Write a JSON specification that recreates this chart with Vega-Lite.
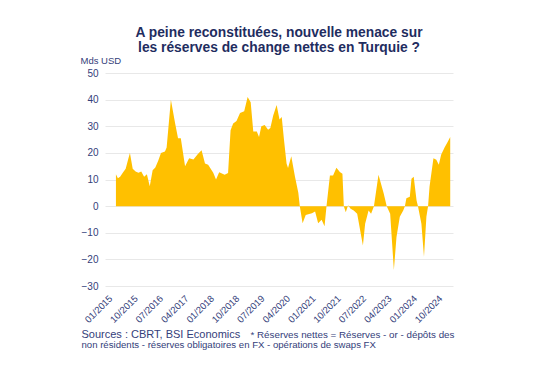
{
  "$schema": "https://vega.github.io/schema/vega-lite/v6.json",
  "autosize": "none",
  "width": 348,
  "height": 213,
  "padding": {"left": 105, "top": 73, "right": 97, "bottom": 86},
  "background": "white",
  "title": {
    "text": ["A peine reconstituées, nouvelle menace sur", "les réserves de change nettes en Turquie ?"],
    "font": "Liberation Sans",
    "fontSize": 13.8,
    "fontWeight": "bold",
    "color": "#1F2D5F",
    "lineHeight": 15.5,
    "anchor": "middle",
    "offset": 0
  },
  "config": {
    "view": {"stroke": null},
    "font": "Liberation Sans"
  },
  "data": {
    "values": [
      {"date": "2015-01-01", "v": 12},
      {"date": "2015-01-22", "v": 10.5},
      {"date": "2015-02-15", "v": 11},
      {"date": "2015-03-16", "v": 12.5},
      {"date": "2015-04-16", "v": 14},
      {"date": "2015-05-16", "v": 18},
      {"date": "2015-06-01", "v": 20},
      {"date": "2015-07-01", "v": 14},
      {"date": "2015-08-01", "v": 13},
      {"date": "2015-09-01", "v": 12.5},
      {"date": "2015-10-01", "v": 13},
      {"date": "2015-11-01", "v": 11},
      {"date": "2015-12-01", "v": 12},
      {"date": "2016-01-01", "v": 7.5},
      {"date": "2016-02-01", "v": 13.5},
      {"date": "2016-03-01", "v": 14.5},
      {"date": "2016-04-01", "v": 17},
      {"date": "2016-05-01", "v": 20},
      {"date": "2016-06-13", "v": 20.5},
      {"date": "2016-07-01", "v": 22},
      {"date": "2016-08-16", "v": 40},
      {"date": "2016-10-01", "v": 31},
      {"date": "2016-11-01", "v": 25.5},
      {"date": "2016-12-01", "v": 25.5},
      {"date": "2017-01-16", "v": 15},
      {"date": "2017-03-01", "v": 18},
      {"date": "2017-04-16", "v": 17.5},
      {"date": "2017-06-01", "v": 19.5},
      {"date": "2017-07-13", "v": 21},
      {"date": "2017-08-19", "v": 16},
      {"date": "2017-09-22", "v": 15.5},
      {"date": "2017-11-16", "v": 12.5},
      {"date": "2017-12-16", "v": 10},
      {"date": "2018-01-19", "v": 12.7},
      {"date": "2018-03-19", "v": 11.8},
      {"date": "2018-04-25", "v": 12.4},
      {"date": "2018-05-22", "v": 28.5},
      {"date": "2018-06-19", "v": 31},
      {"date": "2018-07-25", "v": 32},
      {"date": "2018-09-01", "v": 35},
      {"date": "2018-10-16", "v": 35.6},
      {"date": "2018-11-22", "v": 41},
      {"date": "2018-12-25", "v": 39},
      {"date": "2019-01-22", "v": 28},
      {"date": "2019-03-01", "v": 28},
      {"date": "2019-03-25", "v": 26},
      {"date": "2019-04-19", "v": 30},
      {"date": "2019-05-25", "v": 30.5},
      {"date": "2019-07-01", "v": 28.7},
      {"date": "2019-07-25", "v": 29.3},
      {"date": "2019-08-25", "v": 34},
      {"date": "2019-10-01", "v": 38},
      {"date": "2019-11-01", "v": 32.5},
      {"date": "2019-11-25", "v": 33.5},
      {"date": "2019-12-19", "v": 25},
      {"date": "2020-01-16", "v": 16},
      {"date": "2020-02-01", "v": 14.3},
      {"date": "2020-03-07", "v": 18.7},
      {"date": "2020-04-16", "v": 11},
      {"date": "2020-05-22", "v": 5},
      {"date": "2020-06-07", "v": 0},
      {"date": "2020-07-07", "v": -6.4},
      {"date": "2020-08-10", "v": -3.3},
      {"date": "2020-09-16", "v": -3},
      {"date": "2020-10-16", "v": -2.7},
      {"date": "2020-11-19", "v": -2},
      {"date": "2020-12-22", "v": -6.4},
      {"date": "2021-01-28", "v": -5.1},
      {"date": "2021-03-01", "v": -7.6},
      {"date": "2021-03-22", "v": 0},
      {"date": "2021-04-28", "v": 11.5},
      {"date": "2021-06-01", "v": 11.5},
      {"date": "2021-07-07", "v": 14.4},
      {"date": "2021-08-13", "v": 12.8},
      {"date": "2021-09-10", "v": 12.2},
      {"date": "2021-09-25", "v": 0},
      {"date": "2021-10-16", "v": -2.3},
      {"date": "2021-11-10", "v": 0.3},
      {"date": "2021-12-07", "v": -1},
      {"date": "2022-01-10", "v": -1.6},
      {"date": "2022-02-16", "v": -2.9},
      {"date": "2022-04-19", "v": -14.8},
      {"date": "2022-05-13", "v": -6.6},
      {"date": "2022-06-19", "v": -1.6},
      {"date": "2022-07-16", "v": -2.9},
      {"date": "2022-08-16", "v": 0},
      {"date": "2022-10-04", "v": 11.8},
      {"date": "2022-11-28", "v": 4.9},
      {"date": "2023-01-01", "v": 0},
      {"date": "2023-02-07", "v": -2.9},
      {"date": "2023-03-19", "v": -24},
      {"date": "2023-04-16", "v": -11.7},
      {"date": "2023-05-22", "v": -4},
      {"date": "2023-06-28", "v": -1.6},
      {"date": "2023-07-16", "v": 0},
      {"date": "2023-08-01", "v": 3},
      {"date": "2023-09-07", "v": 3.5},
      {"date": "2023-09-25", "v": 10.3},
      {"date": "2023-10-19", "v": 11},
      {"date": "2023-11-19", "v": 2.1},
      {"date": "2023-12-04", "v": 0},
      {"date": "2024-01-10", "v": -6.6},
      {"date": "2024-02-07", "v": -19},
      {"date": "2024-03-04", "v": -4},
      {"date": "2024-03-22", "v": 0},
      {"date": "2024-04-07", "v": 7.4},
      {"date": "2024-05-19", "v": 18},
      {"date": "2024-06-19", "v": 17.4},
      {"date": "2024-07-16", "v": 15.5},
      {"date": "2024-08-10", "v": 19.3},
      {"date": "2024-09-16", "v": 22},
      {"date": "2024-10-22", "v": 24.3},
      {"date": "2024-11-16", "v": 26}
    ]
  },
  "encoding": {
    "x": {
      "field": "date",
      "type": "temporal",
      "scale": {
        "type": "utc",
        "domain": [
          {"year": 2014, "month": 9, "date": 5, "utc": true},
          {"year": 2024, "month": 12, "date": 16, "utc": true}
        ]
      }
    },
    "y": {
      "field": "v",
      "type": "quantitative",
      "scale": {"domain": [-30, 50], "nice": false, "zero": true}
    }
  },
  "layer": [
    {
      "mark": {"type": "area", "color": "#FFC000", "interpolate": "linear"},
      "encoding": {
        "x": {
          "field": "date",
          "type": "temporal",
          "axis": {
            "orient": "bottom",
            "values": [
              {"year": 2015, "month": 1, "date": 1, "utc": true},
              {"year": 2015, "month": 10, "date": 1, "utc": true},
              {"year": 2016, "month": 7, "date": 1, "utc": true},
              {"year": 2017, "month": 4, "date": 1, "utc": true},
              {"year": 2018, "month": 1, "date": 1, "utc": true},
              {"year": 2018, "month": 10, "date": 1, "utc": true},
              {"year": 2019, "month": 7, "date": 1, "utc": true},
              {"year": 2020, "month": 4, "date": 1, "utc": true},
              {"year": 2021, "month": 1, "date": 1, "utc": true},
              {"year": 2021, "month": 10, "date": 1, "utc": true},
              {"year": 2022, "month": 7, "date": 1, "utc": true},
              {"year": 2023, "month": 4, "date": 1, "utc": true},
              {"year": 2024, "month": 1, "date": 1, "utc": true},
              {"year": 2024, "month": 10, "date": 1, "utc": true}
            ],
            "format": "%m/%Y",
            "labelAngle": -45,
            "labelAlign": "right",
            "labelBaseline": "top",
            "labelPadding": 7,
            "labelOffset": -9,
            "labelFontSize": 9.5,
            "labelColor": "#34407A",
            "labelFont": "Liberation Sans",
            "labelOverlap": false,
            "labelFlush": false,
            "ticks": false,
            "domain": false,
            "grid": false,
            "title": "Sources : CBRT, BSI Economics",
            "titleFont": "Liberation Sans",
            "titleFontSize": 11,
            "titleFontWeight": "normal",
            "titleColor": "#34407A",
            "titleAlign": "left",
            "titleBaseline": "middle",
            "titleX": -24,
            "titleY": 48
          }
        },
        "y": {
          "field": "v",
          "type": "quantitative",
          "axis": {
            "orient": "left",
            "values": [-30, -20, -10, 0, 10, 20, 30, 40, 50],
            "labelFontSize": 10,
            "labelColor": "#34407A",
            "labelFont": "Liberation Sans",
            "labelPadding": 7,
            "ticks": false,
            "domain": false,
            "grid": true,
            "gridColor": "#E8E8E8",
            "gridWidth": 1,
            "title": "Mds USD",
            "titleFont": "Liberation Sans",
            "titleFontSize": 9.5,
            "titleFontWeight": "normal",
            "titleColor": "#34407A",
            "titleAngle": 0,
            "titleAlign": "left",
            "titleBaseline": "middle",
            "titleX": -25,
            "titleY": -13
          }
        }
      }
    },
    {
      "mark": {"type": "line", "opacity": 0},
      "encoding": {
        "x": {
          "field": "date",
          "type": "temporal",
          "axis": {
            "orient": "top",
            "labels": false,
            "ticks": false,
            "domain": false,
            "grid": false,
            "title": "* Réserves nettes = Réserves - or  - dépôts des",
            "titleFont": "Liberation Sans",
            "titleFontSize": 9.8,
            "titleFontWeight": "normal",
            "titleColor": "#34407A",
            "titleAlign": "left",
            "titleBaseline": "middle",
            "titleX": 145,
            "titleY": 261
          }
        },
        "y": {
          "field": "v",
          "type": "quantitative",
          "axis": {
            "orient": "right",
            "labels": false,
            "ticks": false,
            "domain": false,
            "grid": false,
            "title": "non résidents - réserves obligatoires en FX - opérations de swaps FX",
            "titleFont": "Liberation Sans",
            "titleFontSize": 9.6,
            "titleFontWeight": "normal",
            "titleColor": "#34407A",
            "titleAngle": 0,
            "titleAlign": "left",
            "titleBaseline": "middle",
            "titleX": -372,
            "titleY": 271
          }
        }
      }
    }
  ],
  "resolve": {"axis": {"x": "independent", "y": "independent"}}
}
